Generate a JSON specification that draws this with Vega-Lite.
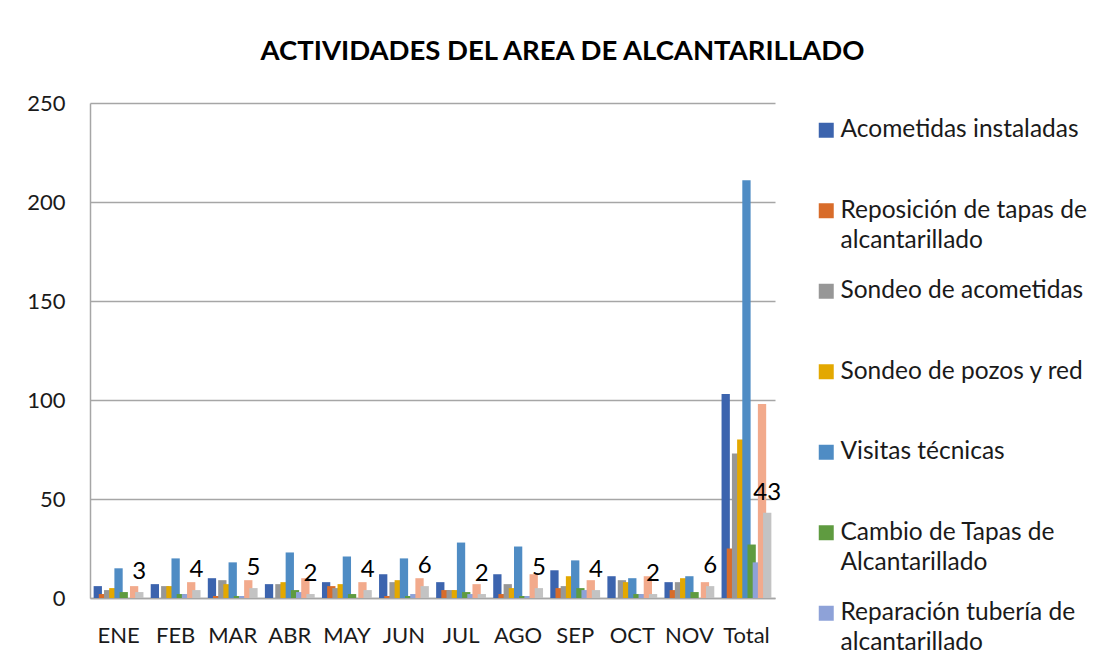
{
  "$schema": "https://vega.github.io/schema/vega-lite/v6.json",
  "width": 685,
  "height": 495,
  "autosize": {"type": "none"},
  "padding": {"left": 90, "top": 103, "right": 332, "bottom": 60},
  "background": "white",
  "config": {
    "font": "Lato",
    "view": {"stroke": null},
    "axis": {"labelFont": "Lato", "labelFontSize": 22, "labelColor": "#1a1a1a"}
  },
  "title": {
    "text": "ACTIVIDADES DEL AREA DE ALCANTARILLADO",
    "font": "Lato",
    "fontSize": 27.5,
    "fontWeight": "bold",
    "color": "#000000",
    "anchor": "middle",
    "frame": "group",
    "dx": 130,
    "offset": 27
  },
  "data": {
    "values": [
      {"mes": "ENE", "Acometidas instaladas": 6, "Reposición de tapas de alcantarillado": 2, "Sondeo de acometidas": 4, "Sondeo de pozos y red": 5, "Visitas técnicas": 15, "Cambio de Tapas de Alcantarillado": 3, "Reparación tubería de alcantarillado": 0, "Limpieza de alcantarillado": 6, "Otras actividades": 3},
      {"mes": "FEB", "Acometidas instaladas": 7, "Reposición de tapas de alcantarillado": 0, "Sondeo de acometidas": 6, "Sondeo de pozos y red": 6, "Visitas técnicas": 20, "Cambio de Tapas de Alcantarillado": 2, "Reparación tubería de alcantarillado": 2, "Limpieza de alcantarillado": 8, "Otras actividades": 4},
      {"mes": "MAR", "Acometidas instaladas": 10, "Reposición de tapas de alcantarillado": 1, "Sondeo de acometidas": 9, "Sondeo de pozos y red": 7, "Visitas técnicas": 18, "Cambio de Tapas de Alcantarillado": 1, "Reparación tubería de alcantarillado": 1, "Limpieza de alcantarillado": 9, "Otras actividades": 5},
      {"mes": "ABR", "Acometidas instaladas": 7, "Reposición de tapas de alcantarillado": 0, "Sondeo de acometidas": 7, "Sondeo de pozos y red": 8, "Visitas técnicas": 23, "Cambio de Tapas de Alcantarillado": 4, "Reparación tubería de alcantarillado": 3, "Limpieza de alcantarillado": 10, "Otras actividades": 2},
      {"mes": "MAY", "Acometidas instaladas": 8, "Reposición de tapas de alcantarillado": 6, "Sondeo de acometidas": 5, "Sondeo de pozos y red": 7, "Visitas técnicas": 21, "Cambio de Tapas de Alcantarillado": 2, "Reparación tubería de alcantarillado": 0, "Limpieza de alcantarillado": 8, "Otras actividades": 4},
      {"mes": "JUN", "Acometidas instaladas": 12, "Reposición de tapas de alcantarillado": 1, "Sondeo de acometidas": 8, "Sondeo de pozos y red": 9, "Visitas técnicas": 20, "Cambio de Tapas de Alcantarillado": 1, "Reparación tubería de alcantarillado": 2, "Limpieza de alcantarillado": 10, "Otras actividades": 6},
      {"mes": "JUL", "Acometidas instaladas": 8, "Reposición de tapas de alcantarillado": 4, "Sondeo de acometidas": 4, "Sondeo de pozos y red": 4, "Visitas técnicas": 28, "Cambio de Tapas de Alcantarillado": 3, "Reparación tubería de alcantarillado": 2, "Limpieza de alcantarillado": 7, "Otras actividades": 2},
      {"mes": "AGO", "Acometidas instaladas": 12, "Reposición de tapas de alcantarillado": 2, "Sondeo de acometidas": 7, "Sondeo de pozos y red": 5, "Visitas técnicas": 26, "Cambio de Tapas de Alcantarillado": 1, "Reparación tubería de alcantarillado": 1, "Limpieza de alcantarillado": 12, "Otras actividades": 5},
      {"mes": "SEP", "Acometidas instaladas": 14, "Reposición de tapas de alcantarillado": 5, "Sondeo de acometidas": 6, "Sondeo de pozos y red": 11, "Visitas técnicas": 19, "Cambio de Tapas de Alcantarillado": 5, "Reparación tubería de alcantarillado": 4, "Limpieza de alcantarillado": 9, "Otras actividades": 4},
      {"mes": "OCT", "Acometidas instaladas": 11, "Reposición de tapas de alcantarillado": 0, "Sondeo de acometidas": 9, "Sondeo de pozos y red": 8, "Visitas técnicas": 10, "Cambio de Tapas de Alcantarillado": 2, "Reparación tubería de alcantarillado": 2, "Limpieza de alcantarillado": 11, "Otras actividades": 2},
      {"mes": "NOV", "Acometidas instaladas": 8, "Reposición de tapas de alcantarillado": 4, "Sondeo de acometidas": 8, "Sondeo de pozos y red": 10, "Visitas técnicas": 11, "Cambio de Tapas de Alcantarillado": 3, "Reparación tubería de alcantarillado": 0, "Limpieza de alcantarillado": 8, "Otras actividades": 6},
      {"mes": "Total", "Acometidas instaladas": 103, "Reposición de tapas de alcantarillado": 25, "Sondeo de acometidas": 73, "Sondeo de pozos y red": 80, "Visitas técnicas": 211, "Cambio de Tapas de Alcantarillado": 27, "Reparación tubería de alcantarillado": 18, "Limpieza de alcantarillado": 98, "Otras actividades": 43}
    ]
  },
  "transform": [
    {"fold": ["Acometidas instaladas", "Reposición de tapas de alcantarillado", "Sondeo de acometidas", "Sondeo de pozos y red", "Visitas técnicas", "Cambio de Tapas de Alcantarillado", "Reparación tubería de alcantarillado", "Limpieza de alcantarillado", "Otras actividades"], "as": ["serie", "valor"]}
  ],
  "encoding": {
    "x": {
      "field": "mes",
      "type": "nominal",
      "sort": ["ENE", "FEB", "MAR", "ABR", "MAY", "JUN", "JUL", "AGO", "SEP", "OCT", "NOV", "Total"],
      "scale": {"paddingInner": 0, "paddingOuter": 0},
      "axis": {"title": null, "labelAngle": 0, "ticks": false, "domainColor": "#a6a6a6", "domainWidth": 1.5, "labelPadding": 27}
    },
    "xOffset": {
      "field": "serie",
      "type": "nominal",
      "sort": ["Acometidas instaladas", "Reposición de tapas de alcantarillado", "Sondeo de acometidas", "Sondeo de pozos y red", "Visitas técnicas", "Cambio de Tapas de Alcantarillado", "Reparación tubería de alcantarillado", "Limpieza de alcantarillado", "Otras actividades"],
      "scale": {"paddingInner": 0, "paddingOuter": 1}
    },
    "y": {
      "field": "valor",
      "type": "quantitative",
      "scale": {"domain": [0, 250], "nice": false},
      "axis": {"title": null, "values": [0, 50, 100, 150, 200, 250], "grid": true, "gridColor": "#a6a6a6", "gridWidth": 1.5, "domainColor": "#a6a6a6", "domainWidth": 1.5, "ticks": false, "labelPadding": 25}
    }
  },
  "layer": [
    {
      "mark": {"type": "bar", "width": 8.3},
      "encoding": {
        "color": {
          "field": "serie",
          "type": "nominal",
          "sort": ["Acometidas instaladas", "Reposición de tapas de alcantarillado", "Sondeo de acometidas", "Sondeo de pozos y red", "Visitas técnicas", "Cambio de Tapas de Alcantarillado", "Reparación tubería de alcantarillado", "Limpieza de alcantarillado", "Otras actividades"],
          "scale": {
            "domain": ["Acometidas instaladas", "Reposición de tapas de alcantarillado", "Sondeo de acometidas", "Sondeo de pozos y red", "Visitas técnicas", "Cambio de Tapas de Alcantarillado", "Reparación tubería de alcantarillado", "Limpieza de alcantarillado", "Otras actividades"],
            "range": ["#3c64ae", "#d86c2a", "#979797", "#e3a800", "#4f8cc4", "#5f9b40", "#8ea2d8", "#f2aa8c", "#c3c3c3"]
          },
          "legend": {
            "title": null,
            "orient": "right",
            "offset": 24,
            "padding": 15,
            "values": ["Acometidas instaladas", "Reposición de tapas de alcantarillado", "Sondeo de acometidas", "Sondeo de pozos y red", "Visitas técnicas", "Cambio de Tapas de Alcantarillado", "Reparación tubería de alcantarillado"],
            "symbolType": "square",
            "symbolSize": 225,
            "symbolStrokeWidth": 0,
            "labelFont": "Lato",
            "labelFontSize": 24.5,
            "labelColor": "#1a1a1a",
            "labelOffset": 2,
            "labelLimit": 400,
            "labelBaseline": "middle",
            "rowPadding": 25.5,
            "labelExpr": "datum.label == 'Reposición de tapas de alcantarillado' ? ['Reposición de tapas de', 'alcantarillado'] : datum.label == 'Cambio de Tapas de Alcantarillado' ? ['Cambio de Tapas de', 'Alcantarillado'] : datum.label == 'Reparación tubería de alcantarillado' ? ['Reparación tubería de', 'alcantarillado'] : [datum.label, '']",
            "encode": {"labels": {"update": {"lineHeight": {"value": 30}}}}
          }
        }
      }
    },
    {
      "transform": [{"filter": "datum.serie == 'Otras actividades'"}],
      "mark": {"type": "text", "fontSize": 24, "baseline": "middle", "dy": -20, "color": "#000000", "font": "Lato"},
      "encoding": {
        "text": {"field": "valor", "type": "quantitative"}
      }
    }
  ]
}
